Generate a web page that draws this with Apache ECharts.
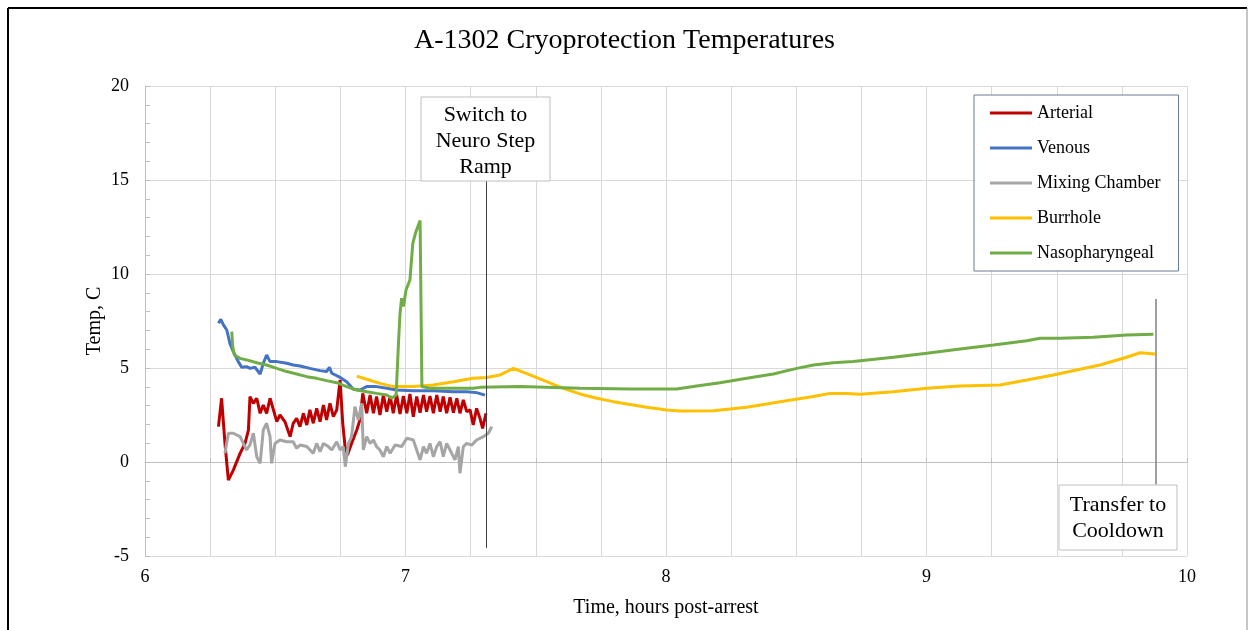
<!DOCTYPE html>
<html>
<head>
<meta charset="utf-8">
<script src="https://cdn.jsdelivr.net/npm/echarts@6/dist/echarts.min.js"></script>
<style>
  html, body { margin: 0; padding: 0; background: #fff; }
  #main { width: 1249px; height: 630px; }
</style>
</head>
<body>
<div id="main"></div>
<script>
// [hours post-arrest, temp C]
const arterial = [
  [6.282, 1.88], [6.294, 3.39], [6.307, 0.99], [6.320, -0.96], [6.339, -0.43], [6.365, 0.46],
  [6.384, 0.99], [6.397, 1.70], [6.403, 3.48], [6.416, 3.12], [6.429, 3.39], [6.442, 2.59],
  [6.454, 3.03], [6.467, 2.59], [6.480, 3.39], [6.493, 2.77], [6.506, 2.15], [6.518, 2.50],
  [6.537, 2.15], [6.557, 1.35], [6.569, 2.06], [6.582, 2.32], [6.595, 1.88], [6.608, 2.59],
  [6.621, 1.97], [6.633, 2.77], [6.646, 2.06], [6.659, 2.85], [6.672, 2.15], [6.685, 3.03],
  [6.697, 2.24], [6.710, 3.12], [6.723, 2.41], [6.736, 2.77], [6.749, 4.36], [6.759, 2.06],
  [6.768, 0.82], [6.777, 0.37], [6.793, 0.99], [6.813, 1.70], [6.825, 2.24], [6.836, 3.65],
  [6.851, 2.59], [6.864, 3.56], [6.877, 2.59], [6.889, 3.48], [6.902, 2.50], [6.915, 3.56],
  [6.928, 2.68], [6.941, 3.51], [6.953, 2.59], [6.966, 3.56], [6.979, 2.55], [6.992, 3.51],
  [7.005, 2.59], [7.017, 3.62], [7.030, 2.41], [7.043, 3.48], [7.056, 2.62], [7.069, 3.56],
  [7.081, 2.68], [7.094, 3.51], [7.107, 2.59], [7.120, 3.56], [7.133, 2.68], [7.145, 3.48],
  [7.158, 2.59], [7.171, 3.44], [7.184, 2.62], [7.197, 3.39], [7.209, 2.59], [7.222, 3.30],
  [7.235, 2.68], [7.248, 2.77], [7.260, 1.97], [7.273, 2.85], [7.286, 2.32], [7.296, 1.79],
  [7.309, 2.59]
];
const venous = [
  [6.282, 7.38], [6.291, 7.59], [6.301, 7.29], [6.314, 7.02], [6.326, 6.31], [6.339, 5.87],
  [6.358, 5.34], [6.371, 5.04], [6.390, 5.07], [6.403, 4.98], [6.422, 5.04], [6.442, 4.68],
  [6.454, 5.25], [6.467, 5.69], [6.480, 5.34], [6.506, 5.34], [6.544, 5.25], [6.569, 5.16],
  [6.595, 5.11], [6.633, 4.98], [6.672, 4.86], [6.697, 4.81], [6.708, 5.04], [6.717, 4.72],
  [6.749, 4.50], [6.774, 4.27], [6.800, 3.87], [6.825, 3.83], [6.851, 4.01], [6.889, 4.01],
  [6.928, 3.92], [6.966, 3.83], [7.030, 3.79], [7.107, 3.79], [7.184, 3.74], [7.235, 3.74],
  [7.273, 3.69], [7.305, 3.56]
];
const mixingChamber = [
  [6.307, 0.46], [6.320, 1.53], [6.339, 1.53], [6.365, 1.35], [6.390, 0.64], [6.403, 0.91],
  [6.416, 1.53], [6.429, 0.28], [6.442, -0.07], [6.454, 1.70], [6.467, 2.06], [6.480, 1.35],
  [6.486, -0.07], [6.499, 0.99], [6.518, 1.17], [6.544, 1.08], [6.569, 1.08], [6.582, 0.73],
  [6.595, 0.90], [6.621, 0.82], [6.646, 0.46], [6.659, 0.99], [6.672, 0.55], [6.685, 0.99],
  [6.704, 0.82], [6.717, 0.64], [6.736, 1.08], [6.749, 0.64], [6.761, 0.82], [6.769, -0.25],
  [6.781, 0.99], [6.793, 1.35], [6.806, 2.94], [6.819, 2.23], [6.832, 3.12], [6.838, 0.64],
  [6.851, 1.35], [6.864, 0.99], [6.877, 1.17], [6.889, 0.82], [6.902, 0.64], [6.915, 0.28],
  [6.928, 0.82], [6.941, 0.46], [6.960, 0.90], [6.985, 0.82], [7.005, 1.26], [7.030, 1.17],
  [7.056, 0.11], [7.069, 0.82], [7.081, 0.46], [7.094, 0.99], [7.107, 0.28], [7.120, 0.82],
  [7.133, 1.08], [7.145, 0.28], [7.158, 0.99], [7.171, 0.64], [7.190, 0.11], [7.203, 0.82],
  [7.209, -0.60], [7.222, 0.82], [7.235, 0.99], [7.254, 0.90], [7.273, 1.17], [7.299, 1.35],
  [7.318, 1.53], [7.331, 1.88]
];
const burrhole = [
  [6.813, 4.57], [6.851, 4.40], [6.902, 4.18], [6.953, 4.01], [7.030, 4.01], [7.107, 4.10],
  [7.184, 4.27], [7.260, 4.45], [7.312, 4.50], [7.363, 4.63], [7.414, 4.98], [7.478, 4.63],
  [7.542, 4.27], [7.606, 3.92], [7.670, 3.62], [7.734, 3.39], [7.798, 3.21], [7.926, 2.91],
  [8.003, 2.77], [8.054, 2.71], [8.182, 2.73], [8.310, 2.91], [8.438, 3.21], [8.566, 3.48],
  [8.630, 3.65], [8.694, 3.65], [8.745, 3.60], [8.873, 3.74], [9.001, 3.92], [9.129, 4.04],
  [9.282, 4.10], [9.385, 4.36], [9.487, 4.63], [9.576, 4.89], [9.666, 5.16], [9.768, 5.57],
  [9.820, 5.81], [9.877, 5.74]
];
const nasopharyngeal = [
  [6.333, 6.93], [6.337, 6.13], [6.343, 5.69], [6.365, 5.51], [6.390, 5.43], [6.429, 5.28],
  [6.467, 5.16], [6.506, 4.98], [6.544, 4.81], [6.582, 4.68], [6.621, 4.54], [6.659, 4.45],
  [6.697, 4.33], [6.736, 4.22], [6.774, 4.01], [6.813, 3.83], [6.851, 3.74], [6.889, 3.65],
  [6.928, 3.56], [6.947, 3.39], [6.964, 3.56], [6.969, 5.07], [6.973, 6.31], [6.979, 7.91],
  [6.985, 8.71], [6.992, 8.27], [7.002, 9.15], [7.017, 9.68], [7.028, 11.63], [7.040, 12.25],
  [7.056, 12.84], [7.061, 12.78], [7.063, 4.01], [7.094, 3.92], [7.171, 3.92], [7.260, 3.92],
  [7.286, 3.97], [7.440, 4.01], [7.670, 3.92], [7.862, 3.88], [8.041, 3.88], [8.118, 4.04],
  [8.207, 4.22], [8.310, 4.45], [8.412, 4.68], [8.502, 4.98], [8.566, 5.16], [8.642, 5.28],
  [8.719, 5.35], [8.809, 5.48], [8.873, 5.57], [9.001, 5.78], [9.129, 6.01], [9.257, 6.22],
  [9.385, 6.45], [9.436, 6.58], [9.512, 6.58], [9.640, 6.63], [9.768, 6.76], [9.871, 6.79]
];

const seriesNames = ['Arterial', 'Venous', 'Mixing Chamber', 'Burrhole', 'Nasopharyngeal'];
const seriesColors = ['#c00000', '#4472c4', '#a5a5a5', '#ffc000', '#70ad47'];
const seriesData = [arterial, venous, mixingChamber, burrhole, nasopharyngeal];

// event markers: x in hours, y range in C
const switchLine = [[7.309, -4.57], [7.309, 14.95]];
const transferLine = [[9.881, -1.2], [9.881, 8.67]];

const serif = 'Liberation Serif';
const gridColor = '#d9d9d9';

let chart = echarts.init(document.getElementById('main'));

let series = seriesData.map(function (d, i) {
    return {
        name: seriesNames[i],
        type: 'line',
        data: d,
        showSymbol: false,
        symbol: 'none',
        lineStyle: { width: 3, color: seriesColors[i] },
        itemStyle: { color: seriesColors[i] },
        animation: false
    };
});
// vertical marker lines
series.push({
    name: 'markers',
    type: 'line',
    data: [],
    silent: true,
    markLine: {
        symbol: 'none',
        silent: true,
        label: { show: false },
        animation: false,
        data: [
            [{ coord: switchLine[0], lineStyle: { color: '#404040', width: 1, type: 'solid' } }, { coord: switchLine[1] }],
            [{ coord: transferLine[0], lineStyle: { color: '#7f7f7f', width: 1.5, type: 'solid' } }, { coord: transferLine[1] }]
        ]
    }
});

let option = {
    backgroundColor: '#fff',
    animation: false,
    title: {
        text: 'A-1302 Cryoprotection Temperatures',
        left: 'center',
        top: 27,
        padding: 0,
        textStyle: { fontFamily: serif, fontSize: 28, fontWeight: 'normal', color: '#000' }
    },
    legend: {
        orient: 'vertical',
        left: 974,
        top: 95,
        data: seriesNames,
        icon: 'rect',
        itemWidth: 42,
        itemHeight: 3,
        itemGap: 17,
        itemTextGap: 4,
        padding: [9, 18, 9, 16],
        borderColor: '#6b7a99',
        borderWidth: 1,
        backgroundColor: '#fff',
        textStyle: { fontFamily: serif, fontSize: 18, color: '#000' }
    },
    grid: { left: 145, right: 62, top: 86, bottom: 74 },
    xAxis: {
        type: 'value',
        min: 6,
        max: 10,
        interval: 1,
        name: 'Time, hours post-arrest',
        nameLocation: 'middle',
        nameGap: 42,
        nameMoveOverlap: false,
        nameTextStyle: { fontFamily: serif, fontSize: 20, color: '#000' },
        axisLine: { show: true, lineStyle: { color: '#bfbfbf' } },
        axisTick: { show: true, inside: true, length: 4, lineStyle: { color: '#bfbfbf' } },
        minorTick: { show: true, splitNumber: 4, length: 4, lineStyle: { color: '#bfbfbf' } },
        splitLine: { show: true, lineStyle: { color: gridColor } },
        minorSplitLine: { show: true, lineStyle: { color: gridColor } },
        axisLabel: { fontFamily: serif, fontSize: 18, color: '#000', margin: 12 }
    },
    yAxis: {
        type: 'value',
        min: -5,
        max: 20,
        interval: 5,
        name: 'Temp, C',
        nameLocation: 'middle',
        nameGap: 40,
        nameMoveOverlap: false,
        nameRotate: 90,
        nameTextStyle: { fontFamily: serif, fontSize: 20, color: '#000' },
        axisLine: { show: true, lineStyle: { color: '#bfbfbf' } },
        axisTick: { show: true, inside: true, length: 5, lineStyle: { color: '#bfbfbf' } },
        minorTick: { show: true, splitNumber: 5, length: 5, lineStyle: { color: '#bfbfbf' } },
        splitLine: { show: true, lineStyle: { color: gridColor } },
        axisLabel: { fontFamily: serif, fontSize: 18, color: '#000', margin: 16 }
    },
    graphic: [
        // outer chart frame
        { type: 'line', z: 100, shape: { x1: 8, y1: 8, x2: 1247, y2: 8 }, style: { stroke: '#000', lineWidth: 2 } },
        { type: 'line', z: 100, shape: { x1: 8, y1: 8, x2: 8, y2: 630 }, style: { stroke: '#000', lineWidth: 2 } },
        { type: 'line', z: 100, shape: { x1: 1247, y1: 8, x2: 1247, y2: 630 }, style: { stroke: '#8c8c8c', lineWidth: 1 } },
        // annotation boxes
        { type: 'rect', z: 100, shape: { x: 421, y: 97, width: 129, height: 84 }, style: { fill: '#fff', stroke: '#bfbfbf', lineWidth: 1 } },
        { type: 'text', z: 101, x: 485.5, y: 141, style: { text: 'Switch to\nNeuro Step\nRamp', fontFamily: serif, fontSize: 22, lineHeight: 26, fill: '#000', align: 'center', verticalAlign: 'middle' } },
        { type: 'rect', z: 100, shape: { x: 1059, y: 485, width: 118, height: 65 }, style: { fill: '#fff', stroke: '#bfbfbf', lineWidth: 1 } },
        { type: 'text', z: 101, x: 1118, y: 518, style: { text: 'Transfer to\nCooldown', fontFamily: serif, fontSize: 22, lineHeight: 26, fill: '#000', align: 'center', verticalAlign: 'middle' } }
    ],
    series: series
};
chart.setOption(option);
</script>
</body>
</html>
